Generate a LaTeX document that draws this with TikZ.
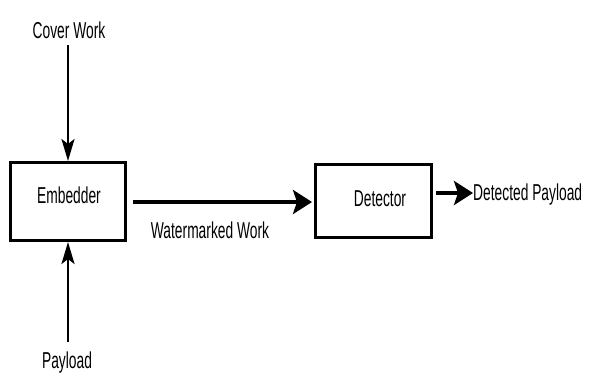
\documentclass[tikz,border=0pt]{standalone}
\usepackage{fontspec}
\newfontfamily\dfont[FakeStretch=0.6]{Liberation Sans}
\usetikzlibrary{arrows.meta}
\begin{document}
\begin{tikzpicture}[x=1pt,y=-1pt,
  box/.style={draw=black,line width=3pt,minimum width=115pt,minimum height=78pt,inner sep=0pt},
  lbl/.style={font=\dfont\fontsize{23}{27}\selectfont,inner sep=0pt},
  varr/.style={draw=black,line width=2.5pt,-{Stealth[length=22pt,width=13pt,inset=5pt]}},
  harr/.style={draw=black,line width=4.5pt,-{Stealth[length=19pt,width=24pt,inset=4pt]}}]
\useasboundingbox (0,0) rectangle (591,373);
\fill[white] (0,0) rectangle (591,373);
% boxes
\node[box] (emb) at (68,201.5) {};
\node[box,minimum width=116pt,minimum height=73pt] (det) at (373.5,201) {};
% texts
\node[lbl,anchor=base] (embt) at (69,203) {Embedder};
\node[lbl,anchor=base] (dett) at (380,206) {Detector};
\node[lbl,anchor=base] (cw) at (69,38) {Cover Work};
\node[lbl,anchor=base] (pl) at (67,368) {Payload};
\node[lbl,anchor=base] (ww) at (210,238) {Watermarked Work};
\node[lbl,anchor=base west] (dp) at (473,200) {Detected Payload};
\coordinate (cwend) at (68,45);
\coordinate (plend) at (68,342);
\coordinate (dpy) at (0,193);
% arrows
\draw[varr] (cwend) -- (emb.north -| cwend);
\draw[varr] (plend) -- (emb.south -| plend);
\draw[harr,shorten <=6pt,shorten >=2pt] (emb.east |- 0,202) -- (det.west |- 0,202);
\draw[harr,shorten <=3pt] (det.east |- dpy) -- (dp.west |- dpy);
\end{tikzpicture}
\end{document}
